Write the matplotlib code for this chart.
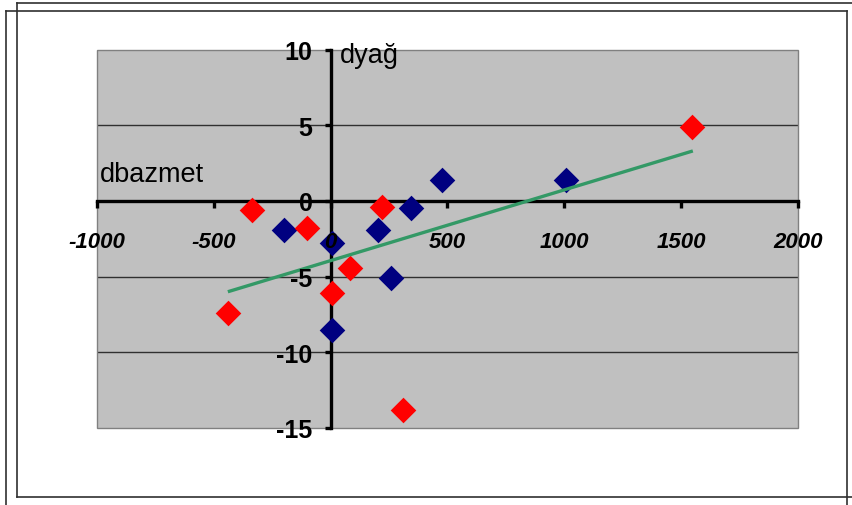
import matplotlib
matplotlib.use('Agg')
import matplotlib.pyplot as plt
from matplotlib.lines import Line2D
from matplotlib.patches import Rectangle

plt.rcParams['font.family'] = ['Liberation Sans', 'DejaVu Sans']

# data
red_x = [-338, -100, 221, 81, 7, -440, 1548, 308]
red_y = [-0.6, -1.8, -0.4, -4.45, -6.1, -7.4, 4.9, -13.8]
blue_x = [-201, 7, 201, 342, 257, 7, 478, 1005]
blue_y = [-1.9, -2.8, -1.9, -0.46, -5.1, -8.5, 1.4, 1.4]
trend_x = [-440, 1550]
trend_y = [-6.0, 3.3]
xticks = [-1000, -500, 0, 500, 1000, 1500, 2000]
yticks = [-15, -10, -5, 0, 5, 10]
grid_y = [5, -5, -10]

W, H = 853, 506
fig = plt.figure(figsize=(W / 100, H / 100), dpi=100)
ax = fig.add_axes([97 / W, 1 - 429 / H, (798 - 97) / W, (429 - 50.5) / H])
ax.set_facecolor('#c0c0c0')
ax.set_xlim(-1000, 2000)
ax.set_ylim(-15, 10)

for g in grid_y:
    ax.axhline(g, color='#303030', lw=1, zorder=1)

ax.spines['top'].set_visible(False)
ax.spines['right'].set_visible(False)
ax.spines['left'].set_position(('data', 0))
ax.spines['bottom'].set_position(('data', 0))
for s in ['left', 'bottom']:
    ax.spines[s].set_linewidth(2.4)
    ax.spines[s].set_color('black')
    ax.spines[s].set_zorder(2)
ax.add_patch(Rectangle((0, 0), 1, 1, transform=ax.transAxes, fill=False,
                       edgecolor='#808080', lw=1, clip_on=False, zorder=1.2))

ax.scatter(blue_x, blue_y, marker='D', s=170, color='#000080', linewidths=0, zorder=2.2)
ax.scatter(red_x, red_y, marker='D', s=170, color='#ff0000', linewidths=0, zorder=2.2)
ax.plot(trend_x, trend_y, color='#339966', lw=2.4, zorder=2.3, solid_capstyle='butt')

ax.set_axisbelow(False)
ax.set_xticks(xticks)
ax.set_yticks(yticks)
ax.set_xticklabels([str(v) for v in xticks], fontsize=16, fontweight='bold', fontstyle='italic')
ax.set_yticklabels([str(v) for v in yticks], fontsize=18, fontweight='bold',
                   family=['Liberation Sans Narrow', 'Liberation Sans', 'DejaVu Sans'])
ax.tick_params(axis='x', direction='out', length=5, width=2.4, pad=17)
ax.tick_params(axis='y', direction='out', length=4, width=2.4, pad=9)

ax.text(100 / W, 1 - 182 / H, 'dbazmet', transform=fig.transFigure, fontsize=19.5,
        ha='left', va='baseline')
ax.text(340 / W, 1 - 63 / H, 'dyağ', transform=fig.transFigure, fontsize=19.5,
        ha='left', va='baseline')

# double frame around the chart
frame_lines = [
    ((17, 853), (4, 4)), ((17, 17), (4, 498)), ((17, 853), (498, 498)),
    ((6, 847), (12, 12)), ((6, 6), (12, 506)), ((847, 847), (12, 506)),
]
for xs, ys in frame_lines:
    fig.add_artist(Line2D([x / W for x in xs], [1 - y / H for y in ys],
                          transform=fig.transFigure, color='#303030', lw=1.2))

fig.savefig('out.png', dpi=100)
